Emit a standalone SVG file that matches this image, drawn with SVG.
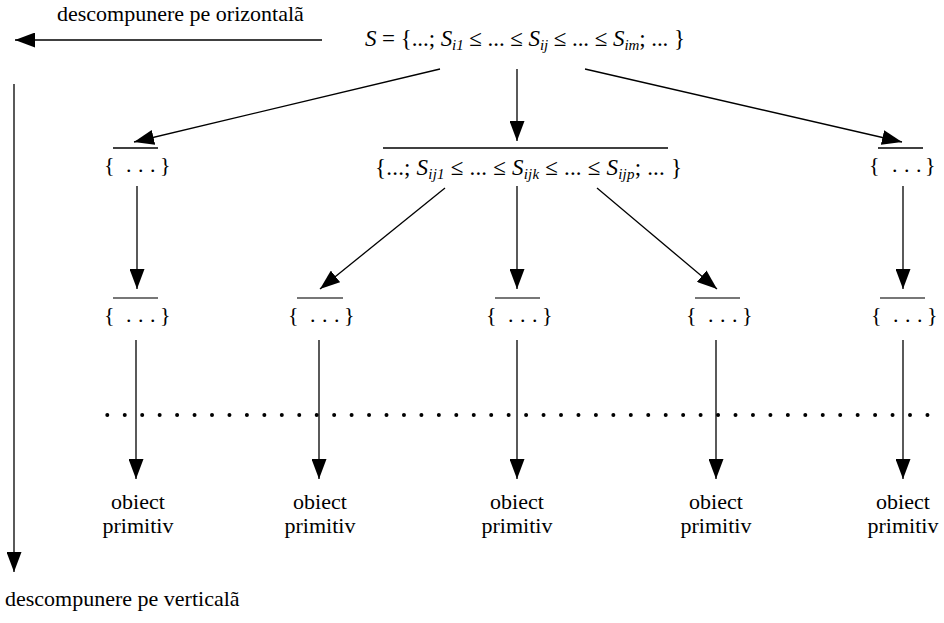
<svg xmlns="http://www.w3.org/2000/svg" width="944" height="623" viewBox="0 0 944 623">
<style>
.i{font-style:italic}
.ln{stroke:#000;stroke-width:1.3;fill:none}
.bar{stroke:#000;stroke-width:1.5}
.bar2{stroke:#777;stroke-width:2}
.dots{stroke:#000;stroke-width:4;stroke-linecap:round;stroke-dasharray:0 17.45}
</style>
<defs>
<marker id="ah" viewBox="0 0 20 15" refX="20" refY="7.5" markerWidth="20" markerHeight="15" markerUnits="userSpaceOnUse" orient="auto">
<path d="M0,0 L20,7.5 L0,15 z" fill="#000"/>
</marker>
</defs>

<g id="axes" font-family="Liberation Serif" font-size="22" fill="#000">
<text x="57" y="21">descompunere pe orizontalã</text>
<text x="5" y="606">descompunere pe verticalã</text>
</g>

<g id="connectors">
<line class="ln" x1="322" y1="40" x2="15" y2="40" marker-end="url(#ah)"/>
<line class="ln" x1="14" y1="84" x2="14" y2="572" marker-end="url(#ah)"/>
<line class="ln" x1="440" y1="69" x2="134" y2="142" marker-end="url(#ah)"/>
<line class="ln" x1="517" y1="69" x2="517" y2="141" marker-end="url(#ah)"/>
<line class="ln" x1="585" y1="69" x2="902" y2="142" marker-end="url(#ah)"/>
<line class="ln" x1="137" y1="186" x2="137" y2="289" marker-end="url(#ah)"/>
<line class="ln" x1="445" y1="188" x2="320" y2="289" marker-end="url(#ah)"/>
<line class="ln" x1="517" y1="186" x2="517" y2="289" marker-end="url(#ah)"/>
<line class="ln" x1="597" y1="188" x2="717" y2="289" marker-end="url(#ah)"/>
<line class="ln" x1="903" y1="186" x2="903" y2="289" marker-end="url(#ah)"/>
<line class="ln" x1="136" y1="340" x2="136" y2="479" marker-end="url(#ah)"/>
<line class="ln" x1="319" y1="340" x2="319" y2="479" marker-end="url(#ah)"/>
<line class="ln" x1="517" y1="340" x2="517" y2="479" marker-end="url(#ah)"/>
<line class="ln" x1="716" y1="340" x2="716" y2="479" marker-end="url(#ah)"/>
<line class="ln" x1="903" y1="340" x2="903" y2="479" marker-end="url(#ah)"/>
</g>

<g id="root" font-family="Liberation Serif" font-size="23" fill="#000">
<text x="365" y="46" textLength="320" lengthAdjust="spacing"><tspan class="i">S</tspan> = {...; <tspan class="i">S</tspan><tspan class="i" font-size="15" dy="4">i1</tspan><tspan dy="-4"> ≤ ... ≤ </tspan><tspan class="i">S</tspan><tspan class="i" font-size="15" dy="4">ij</tspan><tspan dy="-4"> ≤ ... ≤ </tspan><tspan class="i">S</tspan><tspan class="i" font-size="15" dy="4">im</tspan><tspan dy="-4">; ...  }</tspan></text>
</g>

<g id="n1a" font-family="Liberation Serif" font-size="22" fill="#000">
<line class="bar" x1="113" y1="148" x2="158" y2="148"/>
<text y="172"><tspan x="104">{</tspan><tspan x="126 138 150">...</tspan><tspan x="160">}</tspan></text>
</g>
<g id="n1b" font-family="Liberation Serif" font-size="23" fill="#000">
<line class="bar" x1="383" y1="148" x2="668" y2="148"/>
<text x="375" y="175" textLength="307" lengthAdjust="spacing">{...; <tspan class="i">S</tspan><tspan class="i" font-size="15" dy="4">ij1</tspan><tspan dy="-4"> ≤ ... ≤ </tspan><tspan class="i">S</tspan><tspan class="i" font-size="15" dy="4">ijk</tspan><tspan dy="-4"> ≤ ... ≤ </tspan><tspan class="i">S</tspan><tspan class="i" font-size="15" dy="4">ijp</tspan><tspan dy="-4">; ... }</tspan></text>
</g>
<g id="n1c" font-family="Liberation Serif" font-size="22" fill="#000">
<line class="bar" x1="878" y1="148" x2="923" y2="148"/>
<text y="172"><tspan x="869">{</tspan><tspan x="892 904 916">...</tspan><tspan x="925">}</tspan></text>
</g>

<g id="n2a" font-family="Liberation Serif" font-size="22" fill="#000">
<line class="bar2" x1="113" y1="298" x2="158" y2="298"/>
<text y="322"><tspan x="104">{</tspan><tspan x="126 138 150">...</tspan><tspan x="160">}</tspan></text>
</g>
<g id="n2b" font-family="Liberation Serif" font-size="22" fill="#000">
<line class="bar2" x1="297" y1="298" x2="343" y2="298"/>
<text y="322"><tspan x="288">{</tspan><tspan x="310 322 334">...</tspan><tspan x="344">}</tspan></text>
</g>
<g id="n2c" font-family="Liberation Serif" font-size="22" fill="#000">
<line class="bar2" x1="495" y1="298" x2="540" y2="298"/>
<text y="322"><tspan x="486">{</tspan><tspan x="508 520 532">...</tspan><tspan x="542">}</tspan></text>
</g>
<g id="n2d" font-family="Liberation Serif" font-size="22" fill="#000">
<line class="bar2" x1="695" y1="298" x2="740" y2="298"/>
<text y="322"><tspan x="686">{</tspan><tspan x="708 720 732">...</tspan><tspan x="742">}</tspan></text>
</g>
<g id="n2e" font-family="Liberation Serif" font-size="22" fill="#000">
<line class="bar2" x1="880" y1="298" x2="925" y2="298"/>
<text y="322"><tspan x="871">{</tspan><tspan x="893 905 917">...</tspan><tspan x="927">}</tspan></text>
</g>

<g id="dotline">
<line class="dots" x1="107.3" y1="415" x2="928" y2="415"/>
</g>

<g id="p1" font-family="Liberation Serif" font-size="22" fill="#000" text-anchor="middle"><text x="138" y="509">obiect</text><text x="138" y="533">primitiv</text></g>
<g id="p2" font-family="Liberation Serif" font-size="22" fill="#000" text-anchor="middle"><text x="320" y="509">obiect</text><text x="320" y="533">primitiv</text></g>
<g id="p3" font-family="Liberation Serif" font-size="22" fill="#000" text-anchor="middle"><text x="517" y="509">obiect</text><text x="517" y="533">primitiv</text></g>
<g id="p4" font-family="Liberation Serif" font-size="22" fill="#000" text-anchor="middle"><text x="716" y="509">obiect</text><text x="716" y="533">primitiv</text></g>
<g id="p5" font-family="Liberation Serif" font-size="22" fill="#000" text-anchor="middle"><text x="903" y="509">obiect</text><text x="903" y="533">primitiv</text></g>
</svg>
